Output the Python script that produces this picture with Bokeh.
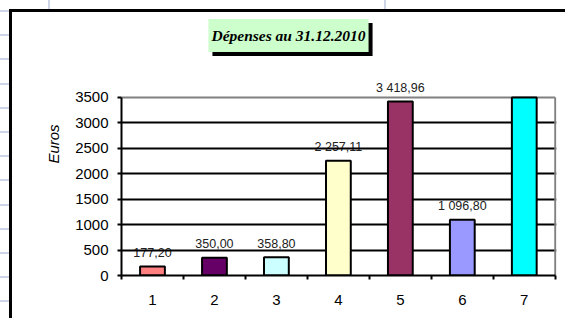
from bokeh.plotting import figure
from bokeh.models import ColumnDataSource, FixedTicker, Range1d, Label, InlineStyleSheet
from bokeh.embed import file_html
from bokeh.resources import INLINE
from bokeh.core.properties import value
import numpy as np

# ---- data ----
categories = [1, 2, 3, 4, 5, 6, 7]
depenses = [177.20, 350.00, 358.80, 2257.11, 3418.96, 1096.80, 3900.00]
bar_colors = ["#ff8080", "#660066", "#ccffff", "#ffffcc", "#993366", "#9999ff", "#00ffff"]
y_ticks = [0, 500, 1000, 1500, 2000, 2500, 3000, 3500]
title_text = "Dépenses au 31.12.2010"
y_label = "Euros"

YMAX = 3500
Y_END = 5171


def fr(v):
    s = f"{v:,.2f}"
    return s.replace(",", " ").replace(".", ",")


vals = np.array(depenses)
src = ColumnDataSource(dict(x=categories, top=np.minimum(vals, YMAX), color=bar_colors))
lab_x = [c for c, v in zip(categories, depenses) if v <= YMAX]
lab_y = [v for v in depenses if v <= YMAX]
lab_t = [fr(v) for v in depenses if v <= YMAX]
lab_src = ColumnDataSource(dict(x=lab_x, y=lab_y, t=lab_t))

p = figure(width=553, height=306, x_range=Range1d(0.5, 7.52), y_range=Range1d(0, Y_END),
           output_backend="svg", toolbar_location=None,
           min_border_left=109, min_border_right=9, min_border_top=0, min_border_bottom=43)
p.outline_line_color = None
p.background_fill_color = "white"
p.border_fill_color = "white"

# chart outer frame (thick black line on left and top) + spreadsheet grid stubs in the margin
GRID_C = "#cdd5e6"
shadows = ["-3px 0px 0px 0px #000000", "0px -3px 0px 0px #000000", "-3px -3px 0px 0px #000000"]
for k in range(13):
    yy = round(10 + 24.2 * k)
    shadows.append(f"-164px {yy - 164}px 0px -152px {GRID_C}")
p.styles = {"margin-left": "12px", "margin-top": "12px", "box-shadow": ", ".join(shadows)}
p.stylesheets = [InlineStyleSheet(css=(
    ":host::before { content: ''; position: absolute; left: -12px; top: -12px; "
    "width: 565px; height: 9px; pointer-events: none; "
    f"background: linear-gradient(to right, transparent 48px, {GRID_C} 48px, {GRID_C} 50px, "
    f"transparent 50px, transparent 384px, {GRID_C} 384px, {GRID_C} 386px, transparent 386px); }}"
))]

# grid
p.xgrid.visible = False
p.ygrid.ticker = FixedTicker(ticks=y_ticks[1:-1])
p.ygrid.grid_line_color = "black"
p.ygrid.grid_line_width = 2

# y axis
ya = p.yaxis[0]
ya.ticker = FixedTicker(ticks=y_ticks)
ya.bounds = (0, YMAX)
ya.axis_line_width = 2
ya.major_tick_line_width = 2
ya.major_tick_in = 0
ya.major_tick_out = 4
ya.minor_tick_line_color = None
ya.major_label_standoff = 9
ya.major_label_text_font = "Liberation Sans"
ya.major_label_text_font_size = "15px"
ya.major_label_text_color = "black"
ya.axis_label = y_label
ya.axis_label_text_font = "Liberation Sans"
ya.axis_label_text_font_size = "15px"
ya.axis_label_text_font_style = "italic"
ya.axis_label_text_color = "black"
ya.axis_label_standoff = 10

# x axis
xa = p.xaxis[0]
xa.ticker = FixedTicker(ticks=categories, minor_ticks=[c - 0.5 for c in categories] + [categories[-1] + 0.5])
xa.bounds = (0.5, 7.5)
xa.axis_line_width = 2
xa.major_tick_in = 0
xa.major_tick_out = 0
xa.minor_tick_in = 0
xa.minor_tick_out = 4
xa.minor_tick_line_width = 2
xa.minor_tick_line_color = "black"
xa.major_label_standoff = 15
xa.major_label_text_font = "Liberation Sans"
xa.major_label_text_font_size = "15px"
xa.major_label_text_color = "black"

# data labels (under the grid lines)
p.text(x="x", y="y", text="t", source=lab_src, text_align="center", text_baseline="middle",
       y_offset=-14, text_font=value("Liberation Sans"), text_font_size="12.5px",
       text_color="#222222", level="image")

# plot-area border (gray)
p.segment(x0=[0.5, 7.5], y0=[YMAX, 0], x1=[7.5, 7.5], y1=[YMAX, YMAX],
          line_color="#808080", line_width=2)

# bars
p.vbar(x="x", top="top", width=0.4, bottom=0, fill_color="color", line_color="black",
       line_width=2, source=src)

# title with shadow (screen units: from frame's bottom-left)
p.add_layout(Label(x=171, y=236, x_units="screen", y_units="screen", text=title_text,
                   text_font="Liberation Serif", text_font_style="bold italic",
                   text_font_size="15.5px", text_align="center", text_baseline="middle",
                   text_color="black", background_fill_color="black", padding=(3, 8),
                   border_line_color=None))
p.add_layout(Label(x=167, y=240, x_units="screen", y_units="screen", text=title_text,
                   text_font="Liberation Serif", text_font_style="bold italic",
                   text_font_size="15.5px", text_align="center", text_baseline="middle",
                   text_color="black", background_fill_color="#ccffcc", padding=(3, 8),
                   border_line_color=None))

open("out.html", "w").write(file_html(p, INLINE))
